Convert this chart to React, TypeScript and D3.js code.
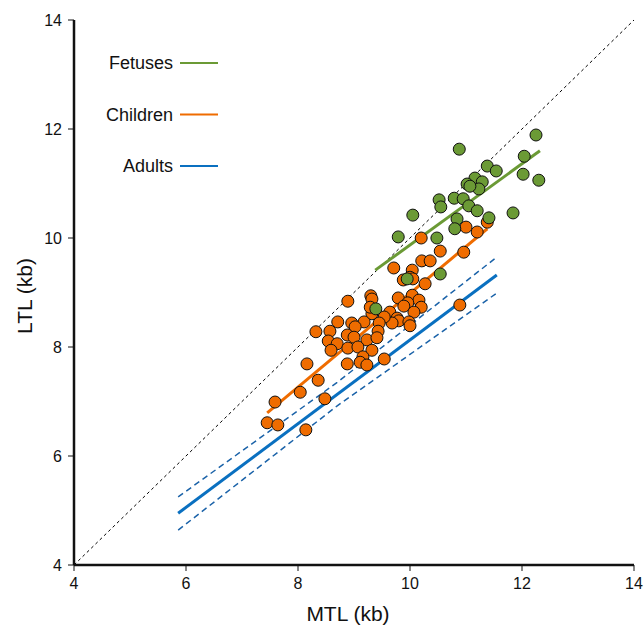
import React from "react";
import { scaleLinear, line } from "d3";

// scatter points, [MTL, LTL] in kb
const fetuses: [number, number][] = [
  [10.88, 11.63], [12.25, 11.89], [12.04, 11.5], [12.3, 11.06], [12.02, 11.17],
  [11.38, 11.32], [11.54, 11.23], [11.16, 11.1], [11.02, 10.99], [11.29, 11.03],
  [11.23, 10.9], [11.07, 10.95], [10.52, 10.7], [10.55, 10.57], [10.79, 10.73],
  [10.95, 10.72], [11.05, 10.59], [11.2, 10.5], [11.84, 10.46], [10.84, 10.35],
  [11.41, 10.37], [10.8, 10.17], [10.48, 10.0], [10.05, 10.42], [9.79, 10.02],
  [10.54, 9.34], [9.95, 9.25], [9.39, 8.7],
];

const children: [number, number][] = [
  [10.27, 9.16], [9.79, 8.9], [9.3, 8.94], [9.32, 8.88], [8.89, 8.84],
  [10.04, 8.95], [10.16, 8.86], [9.96, 8.81], [9.89, 8.75], [10.2, 8.73],
  [10.07, 8.64], [9.64, 8.64], [9.77, 8.53], [9.8, 8.48], [9.68, 8.44],
  [9.98, 8.46], [10.0, 8.39], [9.54, 8.55], [9.32, 8.61], [9.18, 8.46],
  [8.96, 8.44], [9.02, 8.37], [8.71, 8.46], [9.45, 8.44], [9.43, 8.29],
  [9.23, 8.13], [8.88, 8.22], [9.0, 8.18], [8.57, 8.29], [8.32, 8.28],
  [8.54, 8.11], [8.7, 8.06], [8.59, 7.94], [8.89, 7.98], [9.07, 8.0],
  [9.32, 7.94], [9.16, 7.82], [9.11, 7.72], [9.23, 7.67], [8.88, 7.69],
  [9.54, 7.78], [8.16, 7.69], [8.36, 7.39], [8.04, 7.17], [7.59, 6.99],
  [8.48, 7.05], [7.45, 6.61], [7.64, 6.57], [8.14, 6.48], [10.89, 8.77],
  [10.2, 10.0], [10.54, 9.76], [10.96, 9.74], [11.0, 10.2], [11.2, 10.11],
  [11.38, 10.29], [10.21, 9.58], [10.36, 9.58], [9.71, 9.45], [10.04, 9.41],
  [10.0, 9.28], [9.88, 9.23], [10.05, 9.25], [9.29, 8.73], [9.41, 8.17],
];

// regression fits
const fetusFit: [number, number][] = [[9.38, 9.41], [12.32, 11.6]];
const childFit: [number, number][] = [[7.45, 6.79], [11.38, 10.17]];
const adultFit: [number, number][] = [[5.86, 4.95], [11.55, 9.32]];
const adultUpper: [number, number][] = [[5.86, 5.25], [8.7, 7.35], [11.55, 9.65]];
const adultLower: [number, number][] = [[5.86, 4.64], [8.7, 6.92], [11.55, 8.99]];

const ticks = [4, 6, 8, 10, 12, 14];
const legendItems = ["Fetuses", "Children", "Adults"];
const colors = { Fetuses: "#6b9a35", Children: "#ef6c00", Adults: "#0a70c0" };

export default function App() {
  const x = scaleLinear().domain([4, 14]).range([74, 634]);
  const y = scaleLinear().domain([4, 14]).range([565, 20]);
  const path = line<[number, number]>()
    .x((d) => x(d[0]))
    .y((d) => y(d[1]));
  const font = "Liberation Sans, Arial, sans-serif";

  return (
    <svg
      width={644}
      height={625}
      style={{ position: "absolute", left: 0, top: 0, fontFamily: font }}
    >
      {/* identity line */}
      <path d={path([[4, 4], [14, 14]]) || ""} stroke="#000" strokeWidth={1} strokeDasharray="3,3" fill="none" />

      {/* adult CI */}
      <path d={path(adultUpper) || ""} stroke="#1a62a8" strokeWidth={1.5} strokeDasharray="6,4" fill="none" />
      <path d={path(adultLower) || ""} stroke="#1a62a8" strokeWidth={1.5} strokeDasharray="6,4" fill="none" />

      {/* fit lines */}
      <path d={path(adultFit) || ""} stroke={colors.Adults} strokeWidth={3} fill="none" />
      <path d={path(childFit) || ""} stroke={colors.Children} strokeWidth={3} fill="none" />
      <path d={path(fetusFit) || ""} stroke={colors.Fetuses} strokeWidth={3} fill="none" />

      {children.map((d, i) => (
        <circle key={"c" + i} cx={x(d[0])} cy={y(d[1])} r={6} fill={colors.Children} stroke="#111" strokeWidth={1} />
      ))}
      {fetuses.map((d, i) => (
        <circle key={"f" + i} cx={x(d[0])} cy={y(d[1])} r={6} fill={colors.Fetuses} stroke="#111" strokeWidth={1} />
      ))}

      {/* axes */}
      <line x1={x(4)} x2={x(14)} y1={y(4)} y2={y(4)} stroke="#111" strokeWidth={2.5} />
      <line x1={x(4)} x2={x(4)} y1={y(4)} y2={y(14)} stroke="#111" strokeWidth={2.5} />
      {ticks.map((t) => (
        <g key={"x" + t}>
          <line x1={x(t)} x2={x(t)} y1={y(4)} y2={y(4) + 6} stroke="#111" strokeWidth={1} />
          <text x={x(t)} y={589} fontSize={16} textAnchor="middle" fill="#111">{t}</text>
        </g>
      ))}
      {ticks.map((t) => (
        <g key={"y" + t}>
          <line x1={x(4) - 6} x2={x(4)} y1={y(t)} y2={y(t)} stroke="#111" strokeWidth={1} />
          <text x={62} y={y(t) + 6} fontSize={16} textAnchor="end" fill="#111">{t}</text>
        </g>
      ))}
      <text x={348} y={621} fontSize={21} textAnchor="middle" fill="#111">MTL (kb)</text>
      <text transform="translate(32,296) rotate(-90)" fontSize={21} textAnchor="middle" fill="#111">LTL (kb)</text>

      {/* legend */}
      {legendItems.map((k, i) => (
        <g key={k} transform={`translate(0,${63 + i * 51.5})`}>
          <text x={173} y={6} fontSize={18} textAnchor="end" fill="#111">{k}</text>
          <line x1={180} x2={218} y1={0} y2={0} stroke={colors[k as keyof typeof colors]} strokeWidth={2} />
        </g>
      ))}
    </svg>
  );
}
